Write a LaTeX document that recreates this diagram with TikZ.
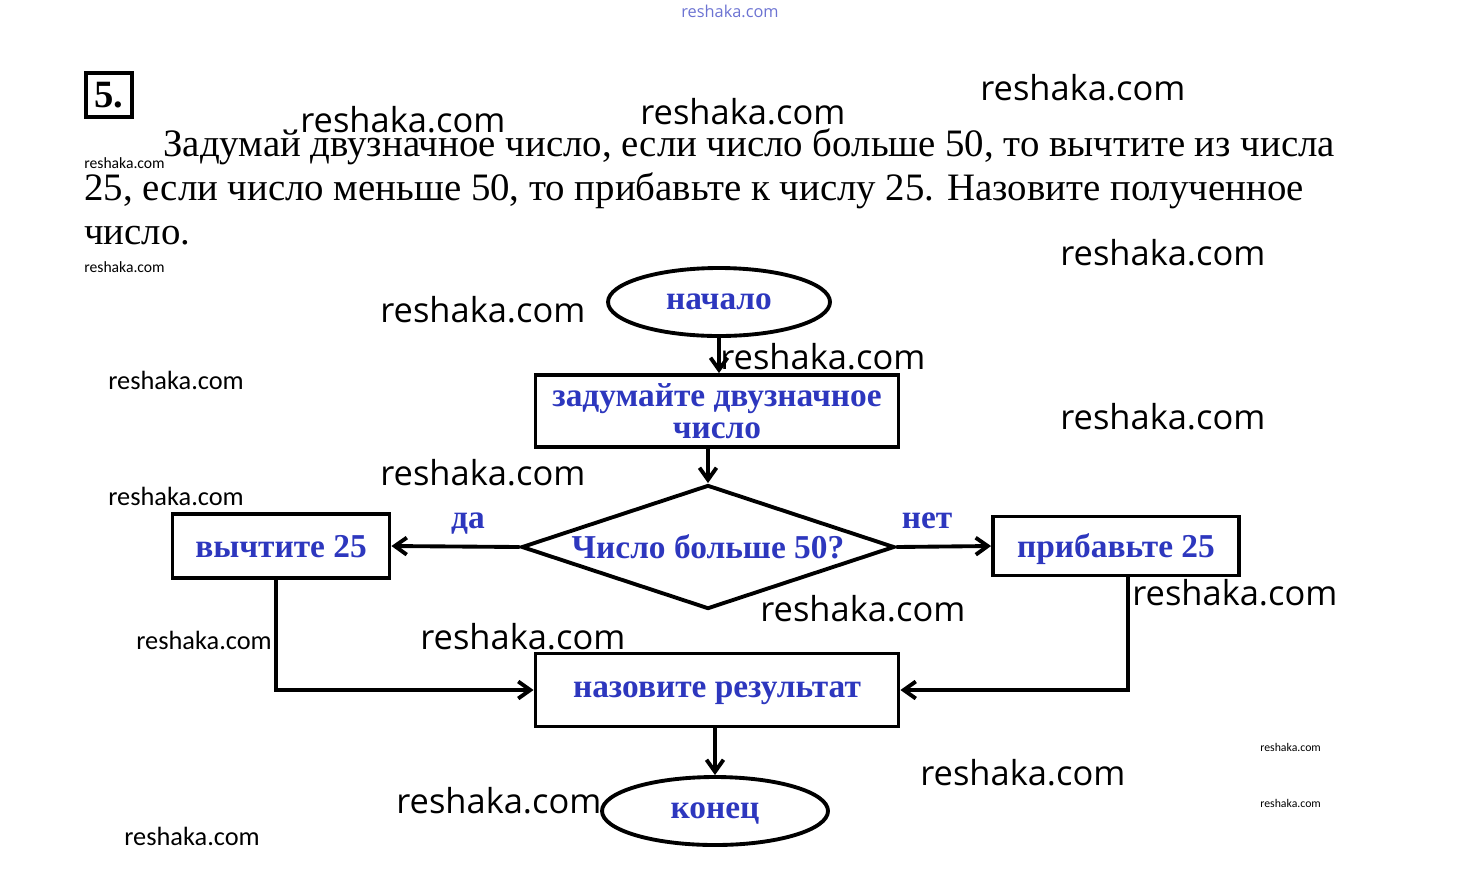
\documentclass[tikz,border=0pt]{standalone}
\usepackage{fontspec}
\setmainfont{Liberation Serif}
\newfontfamily\wmfont{Open Sans}
\newfontfamily\wmnarrow{Carlito}
\usetikzlibrary{shapes.geometric,arrows.meta}
\definecolor{lblue}{RGB}{45,55,190}
\begin{document}
\begin{tikzpicture}[x=0.02cm,y=-0.02cm,
  block/.style={draw,line width=2.2pt,text=lblue,align=center,inner sep=0pt,
    text depth=0pt,font=\bfseries\fontsize{19}{18}\selectfont},
  oval/.style={block,ellipse},
  arr/.style={line width=2.2pt,-{Straight Barb[length=0.24cm,width=0.34cm]}},
  lbl/.style={text=lblue,text depth=0pt,font=\bfseries\fontsize{19}{18}\selectfont},
  line/.style={anchor=base west,inner sep=0pt,font=\fontsize{22.1}{26}\selectfont},
  wm/.style={anchor=west,inner sep=0pt,font=\wmfont\fontsize{19.6}{20}\selectfont},
  wms/.style={anchor=west,inner sep=0pt,font=\wmnarrow\fontsize{15}{16}\selectfont},
  wmt/.style={anchor=west,inner sep=0pt,font=\wmnarrow\fontsize{8.9}{9}\selectfont}]
\useasboundingbox (0,0) rectangle (1460,887);
% task text
\node[draw,line width=1.8pt,minimum width=46*0.02cm,minimum height=44*0.02cm,
  font=\bfseries\fontsize{22}{22}\selectfont] (num) at (109,95) {5.};
\node[line] (l1) at (163,156) {Задумай двузначное число, если число больше 50, то вычтите из числа};
\node[line] (l2) at (84,200) {25, если число меньше 50, то прибавьте к числу 25. Назовите полученное};
\node[line] (l3) at (84,244) {число.};
% flowchart
\node[oval,minimum width=222*0.02cm,minimum height=68*0.02cm] (start) at (719,302) {начало};
\node[block,minimum width=363*0.02cm,minimum height=72*0.02cm] (think) at (717,411)
  {задумайте двузначное\\число};
\node[block,diamond,aspect=3,minimum width=373*0.02cm,minimum height=124*0.02cm] (cond) at (708,547)
  {Число больше 50?};
\node[block,minimum width=217*0.02cm,minimum height=64*0.02cm] (minus) at (281,546) {вычтите 25};
\node[block,minimum width=246*0.02cm,minimum height=59*0.02cm] (plus) at (1116,546) {прибавьте 25};
\node[block,minimum width=363*0.02cm,minimum height=73*0.02cm] (result) at (717,690) {назовите результат};
\node[oval,minimum width=226*0.02cm,minimum height=68*0.02cm] (end) at (715,811) {конец};
\node[lbl] (yes) at (468,521) {да};
\node[lbl] (no) at (927,521) {нет};
\draw[arr] (start.south) -- (start.south |- think.north);
\draw[arr] (cond.north |- think.south) -- (cond.north);
\draw[arr] (cond.west) -- (minus.east);
\draw[arr] (cond.east) -- (plus.west);
\draw[arr] ([xshift=-0.1cm]minus.south) |- (result.west);
\draw[arr] ([xshift=0.24cm]plus.south) |- (result.east);
\draw[arr] (end.north |- result.south) -- (end.north);
% watermarks
\node[anchor=center,inner sep=0pt,text=lblue!70,font=\wmfont\fontsize{9.3}{10}\selectfont] (wm0) at (730,11) {reshaka.com};
\node[wm] (wm1) at (300,120) {reshaka.com};
\node[wm] (wm2) at (640,112) {reshaka.com};
\node[wm] (wm3) at (980,88) {reshaka.com};
\node[wm] (wm4) at (1060,253) {reshaka.com};
\node[wm] (wm5) at (380,310) {reshaka.com};
\node[wm] (wm6) at (720,357) {reshaka.com};
\node[wm] (wm7) at (1060,417) {reshaka.com};
\node[wm] (wm8) at (380,473) {reshaka.com};
\node[wm] (wm9) at (760,609) {reshaka.com};
\node[wm] (wm10) at (1132,593) {reshaka.com};
\node[wm] (wm11) at (420,637) {reshaka.com};
\node[wm] (wm12) at (920,773) {reshaka.com};
\node[wm] (wm13) at (396,801) {reshaka.com};
\node[wms] (wm14) at (108,380) {reshaka.com};
\node[wms] (wm15) at (108,496) {reshaka.com};
\node[wms] (wm16) at (136,640) {reshaka.com};
\node[wms] (wm17) at (124,836) {reshaka.com};
\node[wmt] (wm18) at (84,163) {reshaka.com};
\node[wmt] (wm19) at (84,267) {reshaka.com};
\node[wmt,font=\wmnarrow\fontsize{6.7}{7}\selectfont] (wm20) at (1260,747) {reshaka.com};
\node[wmt,font=\wmnarrow\fontsize{6.7}{7}\selectfont] (wm21) at (1260,803) {reshaka.com};
\end{tikzpicture}
\end{document}
